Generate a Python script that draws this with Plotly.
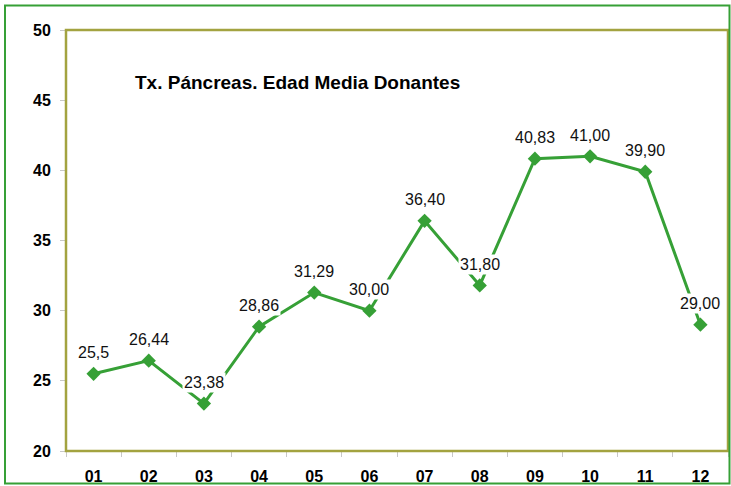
import plotly.graph_objects as go

categories = ["01", "02", "03", "04", "05", "06", "07", "08", "09", "10", "11", "12"]
values = [25.5, 26.44, 23.38, 28.86, 31.29, 30.00, 36.40, 31.80, 40.83, 41.00, 39.90, 29.00]
value_labels = ["25,5", "26,44", "23,38", "28,86", "31,29", "30,00", "36,40", "31,80",
                "40,83", "41,00", "39,90", "29,00"]
y_ticks = [20, 25, 30, 35, 40, 45, 50]
title_text = "Tx. Páncreas. Edad Media Donantes"

GREEN = "#36A036"
OLIVE = "#A3A340"
FONT = "Liberation Sans, Arial, sans-serif"

fig = go.Figure()
fig.add_trace(go.Scatter(
    x=categories, y=values, mode="lines+markers",
    line=dict(color=GREEN, width=3),
    marker=dict(symbol="diamond", size=11, color=GREEN),
    hoverinfo="skip", showlegend=False,
))

annotations = []
for i, (v, t) in enumerate(zip(values, value_labels)):
    annotations.append(dict(
        x=i, y=v, xref="x", yref="y", text=t, showarrow=False,
        yshift=21, bgcolor="white", borderpad=1,
        font=dict(family=FONT, size=16, color="#111111"),
    ))
annotations.append(dict(
    x=0.3495, y=0.905, xref="paper", yref="paper", text="<b>" + title_text + "</b>",
    showarrow=False, font=dict(family=FONT, size=19, color="black"),
))

L, R, T, B = 66, 3, 30, 35
W, H = 731, 486
pw, ph = W - L - R, H - T - B

def px_x(p):
    return (p - L) / pw

def px_y(p):
    return (H - B - p) / ph

shapes = [
    dict(type="rect", xref="paper", yref="paper", x0=0, x1=1, y0=0, y1=1,
         line=dict(color=OLIVE, width=2.5), layer="above"),
    dict(type="rect", xref="paper", yref="paper",
         x0=px_x(5), x1=px_x(729.5), y0=px_y(483.5), y1=px_y(5.5),
         line=dict(color=GREEN, width=2)),
]

fig.update_layout(
    width=W, height=H,
    margin=dict(l=L, r=R, t=T, b=B, autoexpand=False),
    paper_bgcolor="white", plot_bgcolor="white",
    annotations=annotations, shapes=shapes,
    font=dict(family=FONT),
    xaxis=dict(
        type="category", range=[-0.5, len(categories) - 0.5],
        tickson="boundaries", ticks="outside", ticklen=5,
        tickcolor="#C8C8C8", showgrid=False, zeroline=False,
        showline=True, linecolor="#D0D0C8", linewidth=1,
        tickfont=dict(family=FONT, size=16, color="black", weight="bold"),
        ticklabelstandoff=11, automargin=False,
    ),
    yaxis=dict(
        range=[20, 50], tickvals=y_ticks, ticks="outside", ticklen=5,
        tickcolor="#C8C8C8", showgrid=False, zeroline=False,
        showline=True, linecolor="#D0D0C8", linewidth=1,
        tickfont=dict(family=FONT, size=16, color="black", weight="bold"),
        ticklabelstandoff=6, automargin=False,
    ),
)

fig.write_html("out.html", config={"displayModeBar": False},
               post_script="document.body.style.margin='0';")
